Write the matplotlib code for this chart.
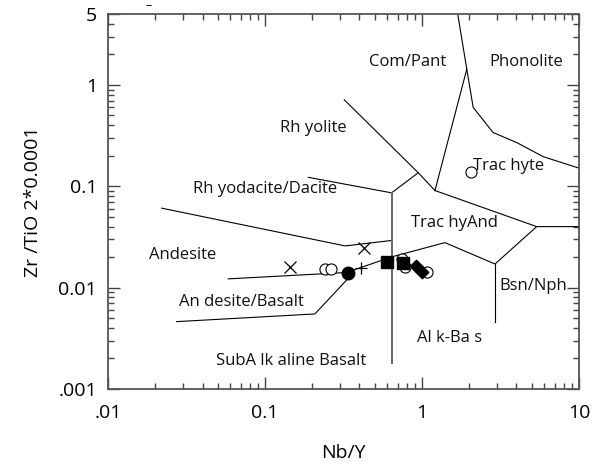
import matplotlib
matplotlib.use("Agg")
import matplotlib.pyplot as plt
from matplotlib.ticker import FixedLocator, FixedFormatter, LogLocator, NullFormatter

plt.rcParams['font.family'] = ['Open Sans', 'DejaVu Sans']

# field boundaries (Nb/Y, Zr/TiO2*0.0001)
phon_x = [1.69, 1.93, 2.12, 2.84, 4.01, 5.92, 10.0]
phon_y = [5.0, 1.43, 0.60, 0.339, 0.27, 0.196, 0.151]
compant_x = [1.93, 1.21]
compant_y = [1.43, 0.0908]
rhy_x = [0.32, 0.947, 1.21]
rhy_y = [0.713, 0.136, 0.0908]
rhyd_x = [0.189, 0.641, 0.947]
rhyd_y = [0.1225, 0.0861, 0.136]
vert_x = [0.641, 0.641]
vert_y = [0.0861, 0.0018]
trach_x = [1.21, 5.38, 10.0]
trach_y = [0.0908, 0.040, 0.040]
andes_x = [0.022, 0.324, 0.641]
andes_y = [0.0608, 0.0258, 0.0292]
andbas_x = [0.0583, 0.33, 0.641, 1.40, 2.92, 5.38]
andbas_y = [0.0122, 0.0141, 0.0201, 0.0278, 0.0171, 0.040]
bsn_x = [2.92, 2.92]
bsn_y = [0.0171, 0.0046]
sub_x = [0.0274, 0.208, 0.34]
sub_y = [0.00462, 0.0055, 0.0124]

# samples
open_x = [0.241, 0.262, 0.743, 0.78, 1.07, 2.04]
open_y = [0.0152, 0.0152, 0.0191, 0.0161, 0.0144, 0.1397]
cross_x = [0.144, 0.428]
cross_y = [0.0161, 0.0245]
dot_x = [0.336]
dot_y = [0.0141]
plus_x = [0.408]
plus_y = [0.0157]
sq_x = [0.596, 0.76]
sq_y = [0.0177, 0.0174]
dia_x = [0.91, 1.0]
dia_y = [0.0163, 0.0142]

labels = [
    ("Com/Pant", 0.815, 1.69), ("Phonolite", 4.59, 1.69), ("Rh yolite", 0.202, 0.377),
    ("Trac hyte", 3.58, 0.159), ("Rh yodacite/Dacite", 0.1, 0.094), ("Trac hyAnd", 1.62, 0.0435),
    ("Andesite", 0.030, 0.021), ("An desite/Basalt", 0.0703, 0.00723),
    ("Bsn/Nph", 5.09, 0.0104), ("Al k-Ba s", 1.51, 0.00318), ("SubA lk aline Basalt", 0.1465, 0.00189),
]

fig = plt.figure(figsize=(5.95, 4.69), dpi=100)
ax = fig.add_axes([0.1815, 0.1706, 0.7915, 0.7994])
ax.set_xscale('log')
ax.set_yscale('log')
ax.set_xlim(0.01, 10)
ax.set_ylim(0.001, 5)

for xs, ys in [(phon_x, phon_y), (compant_x, compant_y), (rhy_x, rhy_y), (rhyd_x, rhyd_y),
               (trach_x, trach_y), (andes_x, andes_y), (andbas_x, andbas_y),
               (bsn_x, bsn_y), (sub_x, sub_y)]:
    ax.plot(xs, ys, color='black', lw=0.8, zorder=2)
ax.plot(vert_x, vert_y, color='#666666', lw=1.4, zorder=2)

ax.plot(open_x, open_y, 'o', ms=8, mfc='white', mec='black', mew=0.8, zorder=3)
ax.plot(cross_x, cross_y, 'x', ms=9, color='black', mew=0.9, zorder=4)
ax.plot(dot_x, dot_y, 'o', ms=9, color='black', zorder=4)
ax.plot(plus_x, plus_y, '+', ms=9, color='black', mew=0.9, zorder=4)
ax.plot(sq_x, sq_y, 's', ms=9, color='black', zorder=4)
ax.plot(dia_x, dia_y, marker=(4, 0, 0), ls='none', ms=9, color='black', zorder=4)

for txt, x, y in labels:
    ax.text(x, y, txt, fontsize=12, ha='center', va='center', color='#111111')

ax.xaxis.set_major_locator(FixedLocator([0.01, 0.1, 1, 10]))
ax.xaxis.set_major_formatter(FixedFormatter(['.01', '0.1', '1', '10']))
ax.xaxis.set_minor_locator(LogLocator(base=10, subs=range(2, 10)))
ax.xaxis.set_minor_formatter(NullFormatter())
ax.yaxis.set_major_locator(FixedLocator([0.001, 0.01, 0.1, 1, 5]))
ax.yaxis.set_major_formatter(FixedFormatter(['.001', '0.01', '0.1', '1', '5']))
ax.yaxis.set_minor_locator(LogLocator(base=10, subs=range(2, 10)))
ax.yaxis.set_minor_formatter(NullFormatter())

ax.tick_params(which='both', direction='in', top=True, right=True, color='#444444', width=1)
ax.tick_params(which='major', length=8.5, labelsize=14)
ax.tick_params(axis='x', which='major', pad=11)
ax.tick_params(axis='y', which='major', pad=8)
ax.tick_params(which='minor', length=4.3)
for s in ax.spines.values():
    s.set_color('#555555')
    s.set_linewidth(1.3)

ax.set_xlabel('Nb/Y', fontsize=14, labelpad=16)
ax.set_ylabel('Zr /TiO 2*0.0001', fontsize=14, labelpad=12)
fig.text(149 / 595, 1 - 6 / 469, '\u2013', fontsize=9, ha='center', va='center')

fig.savefig('out.png', dpi=100)
